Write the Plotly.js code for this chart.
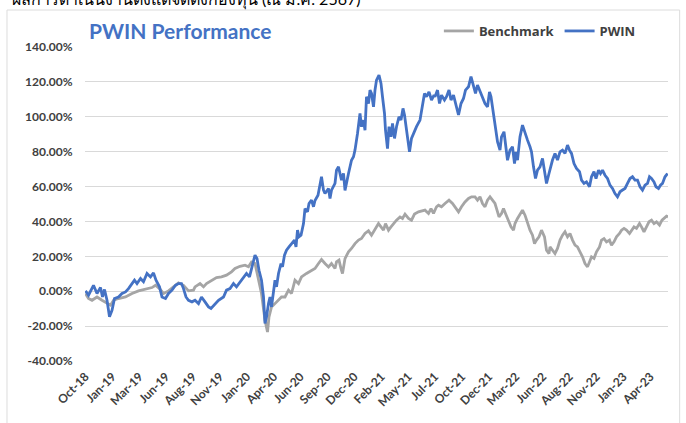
<!DOCTYPE html>
<html>
<head>
<meta charset="utf-8">
<script src="https://cdn.plot.ly/plotly-3.0.1.min.js"></script>
<style>
html,body{margin:0;padding:0;background:#ffffff;}
#chart{width:686px;height:423px;}
</style>
</head>
<body>
<div id="chart"></div>
<script>
// Trading-day index (x) and cumulative return in % (y)
const pwinDays = [1,7,17,24,31,35,39,44,49,54,59,67,74,81,87,94,99,104,111,117,124,131,137,142,149,154,161,167,174,181,187,193,197,202,207,214,220,227,233,240,247,252,260,267,277,283,290,297,303,310,317,323,329,335,340,344,348,353,357,360,363,367,370,373,377,380,383,387,392,395,399,403,408,413,419,422,425,428,432,437,440,445,448,453,457,460,466,473,477,480,487,490,493,500,503,507,510,513,517,520,527,530,533,537,540,545,550,553,557,560,563,567,570,573,577,580,583,588,592,595,599,601,605,608,612,615,619,623,628,632,636,639,641,645,649,653,659,663,670,675,679,683,688,693,698,700,705,709,713,719,723,728,732,737,741,747,752,757,761,767,772,777,781,785,790,795,800,805,809,812,817,821,825,830,833,838,841,845,850,855,859,862,865,870,875,880,885,890,893,897,901,905,910,915,919,923,928,933,935,940,945,950,955,960,965,969,973,978,983,989,993,998,1003,1009,1013,1018,1022,1027,1031,1035,1040,1045,1050,1055,1060,1065,1070,1075,1080,1085,1090,1095,1100,1105,1110,1115,1120,1125,1129,1133,1138,1142,1147,1151,1155,1160,1165];
const pwinValues = [0.2,-2.3,3.4,-1.3,2.1,-3.3,1.0,-5.2,-14.7,-10.9,-4.2,-3.3,-1.3,-0.4,1.5,4.4,6.3,4.4,7.3,5.4,10.2,8.2,10.5,6.3,2.5,-3.3,-4.2,-1.3,0.6,3.4,4.4,4.4,1.5,-3.3,-5.2,-6.1,-5.2,-7.1,-3.3,-6.1,-9.0,-9.9,-7.1,-5.2,-3.3,0.6,1.5,4.4,2.5,5.4,8.2,10.2,8.2,15.9,20.7,18.8,12.0,6.3,-3.3,-18.5,-14.7,-7.1,-3.3,-9.0,0.6,6.3,2.5,10.2,15.9,14.0,20.7,23.5,25.4,27.4,29.3,25.4,35.0,31.2,32.1,38.8,47.4,45.5,50.3,52.2,48.4,52.0,55.0,65.6,57.9,56.0,58.9,53.2,57.9,61.8,69.4,71.3,66.5,63.7,67.5,57.8,67.5,71.3,75.1,77.1,80.9,90.4,101.9,94.3,98.1,92.3,111.5,107.6,115.3,113.4,105.7,115.3,121.0,123.9,119.1,111.5,101.9,92.3,81.8,94.3,88.5,96.2,87.6,94.3,100.0,98.1,104.8,101.0,96.2,86.6,79.9,87.6,92.3,94.3,98.1,105.7,113.4,111.5,114.3,109.6,112.4,111.5,115.3,107.6,112.4,109.6,111.5,115.3,109.6,112.4,107.6,101.0,107.6,110.5,115.3,117.2,123.0,118.2,113.4,118.2,114.3,111.5,107.6,105.7,114.3,111.5,101.9,94.3,85.7,80.9,88.5,91.4,84.7,75.1,80.9,82.8,73.2,79.9,75.1,88.5,95.2,90.4,86.6,82.8,79.9,71.3,64.6,69.4,71.3,76.1,69.4,61.8,67.5,73.2,75.2,79.0,75.2,79.9,80.9,79.0,83.8,80.9,79.0,73.2,70.4,68.5,63.7,61.8,62.7,59.9,65.6,68.5,64.6,69.4,67.5,69.4,66.5,64.6,60.8,58.9,56.0,54.1,57.0,58.0,58.9,61.8,64.6,65.6,63.7,63.7,59.9,58.0,60.8,61.8,65.6,64.6,62.7,59.9,58.9,60.8,61.8,65.6,67.5];

const benchDays = [1,7,14,24,34,44,51,57,67,81,94,107,121,134,141,149,157,167,177,187,197,207,217,220,230,237,243,253,263,273,283,293,300,310,320,327,333,340,347,353,360,365,368,373,380,387,393,400,407,413,420,427,433,443,453,460,467,473,480,487,493,500,503,508,512,515,520,527,533,540,547,553,560,567,573,580,587,592,597,601,607,612,617,623,630,635,640,647,653,659,667,673,680,687,692,697,703,707,713,720,728,735,740,747,753,760,767,773,780,785,790,795,800,805,810,815,820,824,828,833,837,841,847,852,857,860,865,870,875,880,885,890,895,899,903,908,913,919,923,928,930,935,940,945,950,955,960,965,970,975,980,985,990,995,1000,1005,1009,1013,1018,1023,1029,1033,1038,1043,1049,1053,1058,1063,1069,1073,1078,1083,1089,1093,1098,1103,1109,1113,1118,1123,1128,1133,1138,1143,1149,1154,1158,1163,1166];
const benchValues = [-1.3,-4.2,-5.2,-3.3,-5.2,-7.1,-8.0,-5.2,-4.2,-3.3,-1.3,0.2,1.0,2.1,3.4,1.5,-1.3,0.2,2.5,4.8,3.4,0.2,0.6,2.5,4.4,2.5,4.4,6.3,7.8,8.2,9.2,11.1,13.0,14.3,14.9,14.0,16.8,15.9,6.3,-1.3,-16.6,-23.4,-14.7,-9.0,-7.1,-5.2,-3.3,-3.3,0.6,-1.3,6.3,4.4,8.2,10.2,12.1,13.0,15.9,18.2,15.9,13.9,15.9,13.0,16.8,17.8,13.0,10.1,18.7,22.6,24.5,27.3,29.3,30.2,33.1,34.6,32.1,35.9,38.8,36.9,35.0,38.8,35.0,36.9,38.8,40.7,42.6,41.7,44.2,41.7,40.7,44.2,45.5,46.1,46.5,44.6,47.4,44.6,48.4,49.3,48.4,50.3,52.2,50.3,48.4,45.5,48.4,51.2,53.2,54.1,54.1,52.2,54.1,50.3,48.4,52.2,54.1,52.2,50.3,46.5,42.6,44.5,47.4,44.5,40.7,36.9,35.0,38.8,41.7,44.5,46.5,43.6,38.8,35.0,32.1,27.3,29.3,31.2,35.0,31.2,23.5,21.6,25.4,23.5,21.6,24.5,29.3,32.1,34.1,31.2,33.1,29.3,26.4,25.4,22.6,19.7,15.9,14.0,16.8,19.7,18.8,22.6,25.4,29.3,30.2,28.3,29.3,26.4,28.3,31.2,33.1,35.0,36.0,35.0,33.1,35.0,36.9,36.0,38.8,36.9,34.1,36.9,39.8,40.7,38.8,39.8,37.9,40.7,41.7,43.0,42.6];

const xTickLabels = ["Oct-18","Jan-19","Mar-19","Jun-19","Aug-19","Nov-19","Jan-20","Apr-20","Jun-20","Sep-20","Dec-20","Feb-21","May-21","Jul-21","Oct-21","Dec-21","Mar-22","Jun-22","Aug-22","Nov-22","Jan-23","Apr-23"];
const yTickValues = [-40,-20,0,20,40,60,80,100,120,140];
const yTickLabels = ["-40.00%","-20.00%","0.00%","20.00%","40.00%","60.00%","80.00%","100.00%","120.00%","140.00%"];

// label positions: a label every ~54 trading days along the category axis
const xTickValues = xTickLabels.map((_, k) => Math.round(1 + 53.8 * k));

const FONT = "Lato, 'Open Sans', sans-serif";
const LEGFONT = "'Open Sans', Lato, sans-serif";

const traces = [
  {
    x: benchDays, y: benchValues, type: 'scatter', mode: 'lines', name: 'Benchmark',
    line: {color: '#A5A5A5', width: 2.8}
  },
  {
    x: pwinDays, y: pwinValues, type: 'scatter', mode: 'lines', name: 'PWIN',
    line: {color: '#4472C4', width: 2.8}
  }
];

const layout = {
  width: 686, height: 423,
  margin: {l: 85, r: 18, t: 47, b: 62},
  paper_bgcolor: '#ffffff', plot_bgcolor: '#ffffff',
  font: {family: FONT, color: '#404040'},
  showlegend: true,
  legend: {
    orientation: 'h', x: 0.607, xanchor: 'left', y: 1.051, yanchor: 'middle',
    font: {family: LEGFONT, size: 13, color: '#404040', weight: 'bold'},
    bgcolor: 'rgba(0,0,0,0)', itemwidth: 30, tracegroupgap: 0
  },
  xaxis: {
    range: [0, 1166], showgrid: false, zeroline: false, showline: false,
    tickmode: 'array', tickvals: xTickValues, ticktext: xTickLabels,
    tickangle: -45, ticks: 'outside', ticklen: 3, tickcolor: 'rgba(0,0,0,0)',
    tickfont: {family: FONT, size: 12, color: '#404040', weight: 'bold'},
    fixedrange: true
  },
  yaxis: {
    range: [-40, 140], tickmode: 'array', tickvals: yTickValues, ticktext: yTickLabels,
    showgrid: true, gridcolor: '#d9d9d9', gridwidth: 1, zeroline: false, showline: false,
    ticks: 'outside', ticklen: 9, tickcolor: 'rgba(0,0,0,0)',
    tickfont: {family: FONT, size: 12, color: '#404040', weight: 'bold'},
    fixedrange: true
  },
  annotations: [
    {
      text: 'PWIN Performance', xref: 'paper', yref: 'paper',
      x: 0.004, xanchor: 'left', y: 1.054, yanchor: 'middle', showarrow: false,
      font: {family: FONT, size: 21, color: '#4472C4', weight: 'bold'}
    },
    {
      text: 'ผลการดำเนินงานตั้งแต่จัดตั้งกองทุน (ณ ม.ค. 2567)', xref: 'paper', yref: 'paper',
      x: -0.128, xanchor: 'left', y: 1.1106, yanchor: 'bottom', showarrow: false,
      font: {family: FONT, size: 16, color: '#000000'}
    }
  ],
  shapes: [
    {
      type: 'rect', xref: 'paper', yref: 'paper',
      x0: -0.1338, x1: 1.02, y0: -0.3, y1: 1.1178,
      line: {color: '#dcdcdc', width: 1}, fillcolor: 'rgba(0,0,0,0)', layer: 'below'
    }
  ]
};

Plotly.newPlot('chart', traces, layout, {displayModeBar: false, staticPlot: true});
</script>
</body>
</html>
